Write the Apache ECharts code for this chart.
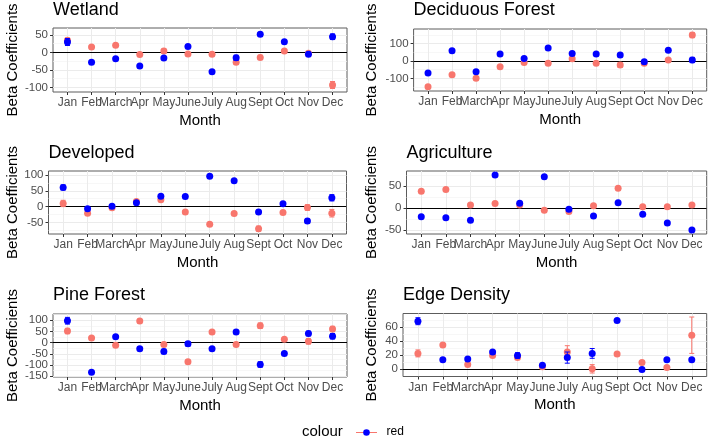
<!DOCTYPE html>
<html>
<head>
<meta charset="utf-8">
<script src="https://cdn.jsdelivr.net/npm/echarts@6/dist/echarts.min.js"></script>
<style>
html,body{margin:0;padding:0;background:#fff;}
#chart{width:709px;height:439px;}
</style>
</head>
<body>
<div id="chart"></div>
<script>
// ---------- DATA ----------
const months = ['Jan','Feb','March','Apr','May','June','July','Aug','Sept','Oct','Nov','Dec'];

const wetlandRed     = [35, 16, 21, -6, 4, -4, -5, -28, -14, 4, -2, -93];
const wetlandRedErr  = [6, 3, 3, 4, 6, 3, 3, 5, 6, 4, 3, 10];
const wetlandBlue    = [30, -28, -18, -39, -16, 17, -55, -15, 52, 31, -5, 45];
const wetlandBlueErr = [10, 3, 3, 3, 4, 3, 3, 7, 4, 3, 6, 8];

const decidRed     = [-148, -79, -100, -33, -8, -13, 13, -13, -23, -13, 6, 150];
const decidRedErr  = [8, 6, 8, 5, 5, 5, 5, 5, 14, 5, 6, 15];
const decidBlue    = [-69, 60, -62, 40, 15, 75, 44, 40, 35, -4, 62, 6];
const decidBlueErr = [5, 5, 8, 5, 6, 5, 5, 5, 10, 8, 5, 15];

const devRed     = [10, -21, -4, 16, 22, -17, -56, -22, -70, -19, -3, -21];
const devRedErr  = [10, 4, 4, 4, 4, 3, 4, 4, 8, 3, 9, 12];
const devBlue    = [61, -7, 1, 12, 33, 32, 96, 82, -17, 9, -46, 28];
const devBlueErr = [8, 4, 4, 5, 4, 3, 3, 3, 6, 3, 7, 10];

const agRed     = [38, 42, 7, 10, 7, -5, -8, 5, 45, 3, 3, 7];
const agRedErr  = [2, 2, 2, 2, 2, 2, 2, 2, 2, 2, 2, 2];
const agBlue    = [-20, -22, -28, 75, 11, 71, -3, -18, 12, -14, -34, -50];
const agBlueErr = [2, 2, 2, 2, 2, 2, 2, 2, 2, 2, 2, 2];

const pineRed     = [52, 21, -11, 97, -8, -85, 48, -8, 76, 15, 6, 61];
const pineRedErr  = [12, 5, 5, 8, 6, 8, 5, 8, 12, 5, 12, 12];
const pineBlue    = [98, -132, 26, -27, -39, -5, -27, 48, -97, -48, 41, 29];
const pineBlueErr = [15, 5, 5, 8, 10, 10, 5, 8, 12, 5, 10, 12];

const edgeRed     = [22, 34, 6, 19, 16, 3, 24, 0, 21, 9, 2, 48];
const edgeRedErr  = [5, 2, 2, 2, 2, 1, 9, 6, 2, 1, 1, 26];
const edgeBlue    = [68, 13, 14, 24, 19, 5, 16, 22, 69, -1, 13, 13];
const edgeBlueErr = [5, 2, 1, 2, 4, 1, 8, 7, 1, 1, 1, 1];

// tick labels / axis ranges
const wetlandMajor = [-100, -50, 0, 50];   const wetlandMinor = [-75, -25, 25];     const wetlandRange = [-113, 70];
const decidMajor   = [-100, 0, 100];       const decidMinor   = [-150, -50, 50, 150]; const decidRange = [-173, 185];
const devMajor     = [-50, 0, 50, 100];    const devMinor     = [-75, -25, 25, 75]; const devRange = [-87, 113];
const agMajor      = [-50, 0, 50];         const agMinor      = [-25, 25, 75];      const agRange = [-59, 84];
const pineMajor    = [-150, -100, -50, 0, 50, 100]; const pineMinor = [-125, -75, -25, 25, 75, 125]; const pineRange = [-153, 128];
const edgeMajor    = [0, 20, 40, 60];      const edgeMinor    = [10, 30, 50, 70];   const edgeRange = [-11, 79];

const panelTitles = ['Wetland','Deciduous Forest','Developed','Agriculture','Pine Forest','Edge Density'];
const xTitle = 'Month';
const yTitle = 'Beta Coefficients';
const legendTitle = 'colour';
const legendLabel = 'red';

// ---------- LAYOUT / STYLE ----------
const FONT = 'Liberation Sans, Arial, Helvetica, sans-serif';
const RED = '#F8766D', BLUE = '#0000FF';
const layout = [
  {left: 53,    top: 28,  width: 294,   height: 64,  yGap: 33,   tTop: 1},
  {left: 413.6, top: 29,  width: 293.1, height: 62,  yGap: 34.6, tTop: 1},
  {left: 48.5,  top: 171, width: 298,   height: 63,  yGap: 28.5, tTop: 144},
  {left: 406.5, top: 171, width: 300.2, height: 63,  yGap: 27.5, tTop: 144},
  {left: 53,    top: 314, width: 294,   height: 63,  yGap: 33,   tTop: 286},
  {left: 403,   top: 313.5, width: 303.7, height: 63, yGap: 24,   tTop: 286}
];

const panelData = [
  {red: wetlandRed, redErr: wetlandRedErr, blue: wetlandBlue, blueErr: wetlandBlueErr, major: wetlandMajor, minor: wetlandMinor, range: wetlandRange},
  {red: decidRed, redErr: decidRedErr, blue: decidBlue, blueErr: decidBlueErr, major: decidMajor, minor: decidMinor, range: decidRange},
  {red: devRed, redErr: devRedErr, blue: devBlue, blueErr: devBlueErr, major: devMajor, minor: devMinor, range: devRange},
  {red: agRed, redErr: agRedErr, blue: agBlue, blueErr: agBlueErr, major: agMajor, minor: agMinor, range: agRange},
  {red: pineRed, redErr: pineRedErr, blue: pineBlue, blueErr: pineBlueErr, major: pineMajor, minor: pineMinor, range: pineRange},
  {red: edgeRed, redErr: edgeRedErr, blue: edgeBlue, blueErr: edgeBlueErr, major: edgeMajor, minor: edgeMinor, range: edgeRange}
];

const monthIdx = months.map((m, i) => i);

function errRender(color) {
  return function (params, api) {
    const x = api.value(0), lo = api.value(1), hi = api.value(2);
    const p1 = api.coord([x, lo]), p2 = api.coord([x, hi]);
    const hw = 2.5;
    const st = {stroke: color, lineWidth: 1};
    return {type: 'group', children: [
      {type: 'line', shape: {x1: p1[0], y1: p1[1], x2: p2[0], y2: p2[1]}, style: st},
      {type: 'line', shape: {x1: p1[0]-hw, y1: p1[1], x2: p1[0]+hw, y2: p1[1]}, style: st},
      {type: 'line', shape: {x1: p2[0]-hw, y1: p2[1], x2: p2[0]+hw, y2: p2[1]}, style: st}
    ]};
  };
}

const yLabelStyle = {interval: 0, margin: 5, fontFamily: FONT, fontSize: 11.5, color: '#4D4D4D',
  hideOverlap: false, showMinLabel: true, showMaxLabel: true};

const grids = [], xAxes = [], yAxes = [], series = [], titles = [];
panelData.forEach((pd, k) => {
  const L = layout[k];
  grids.push({left: L.left, top: L.top, width: L.width, height: L.height, show: true,
    borderColor: '#5c5c5c', borderWidth: 1, containLabel: false});
  titles.push({text: panelTitles[k], left: L.left, top: L.tTop, padding: 0,
    textStyle: {fontFamily: FONT, fontSize: 18, fontWeight: 'normal', color: '#000'}});
  xAxes.push({type: 'value', gridIndex: k, min: -0.6, max: 11.6, position: 'bottom',
    name: xTitle, nameLocation: 'middle', nameGap: 21,
    nameTextStyle: {fontFamily: FONT, fontSize: 15, color: '#000'},
    axisLine: {show: false, onZero: false},
    axisTick: {show: true, length: 3, customValues: monthIdx, lineStyle: {color: '#333'}},
    axisLabel: {customValues: monthIdx, interval: 0, margin: 5, fontFamily: FONT, fontSize: 12, color: '#4D4D4D',
      hideOverlap: false, showMinLabel: true, showMaxLabel: true, formatter: v => months[Math.round(v)]},
    splitLine: {show: false}
  });
  // labels split over two coincident axes so adjacent labels are never auto-hidden
  const evenLabels = pd.major.filter((v, i) => i % 2 === 0);
  const oddLabels = pd.major.filter((v, i) => i % 2 === 1);
  yAxes.push({type: 'value', gridIndex: k, min: pd.range[0], max: pd.range[1], position: 'left', offset: 0,
    name: yTitle, nameLocation: 'middle', nameGap: L.yGap, nameRotate: 90,
    nameTextStyle: {fontFamily: FONT, fontSize: 15, color: '#000'},
    axisLine: {show: false, onZero: false},
    axisTick: {show: true, length: 3, customValues: pd.major, lineStyle: {color: '#333'}},
    axisLabel: Object.assign({customValues: evenLabels}, yLabelStyle),
    splitLine: {show: false}
  });
  yAxes.push({type: 'value', gridIndex: k, min: pd.range[0], max: pd.range[1], position: 'left', offset: 0,
    axisLine: {show: false, onZero: false},
    axisTick: {show: false},
    axisLabel: Object.assign({customValues: oddLabels}, yLabelStyle),
    splitLine: {show: false}
  });
  const yi = 2 * k;
  const gridLines = []
    .concat(pd.minor.map(v => ({yAxis: v, lineStyle: {color: '#F4F4F4', width: 0.7}})))
    .concat(pd.major.map(v => ({yAxis: v, lineStyle: {color: '#EBEBEB', width: 1}})))
    .concat(monthIdx.map(i => ({xAxis: i, lineStyle: {color: '#EBEBEB', width: 1}})));
  series.push({type: 'line', xAxisIndex: k, yAxisIndex: yi, data: [], z: 0, silent: true,
    markLine: {silent: true, z: 0, symbol: 'none', label: {show: false}, animation: false,
      lineStyle: {type: 'solid'}, data: gridLines}});
  series.push({type: 'line', xAxisIndex: k, yAxisIndex: yi, data: [], z: 1, silent: true,
    markLine: {silent: true, z: 1, symbol: 'none', label: {show: false}, animation: false,
      lineStyle: {color: '#000', width: 1, type: 'solid'}, data: [{yAxis: 0}]}});
  const redErr = monthIdx.map(i => [i, pd.red[i] - pd.redErr[i], pd.red[i] + pd.redErr[i]]);
  const blueErr = monthIdx.map(i => [i, pd.blue[i] - pd.blueErr[i], pd.blue[i] + pd.blueErr[i]]);
  series.push({type: 'custom', xAxisIndex: k, yAxisIndex: yi, z: 2, silent: true,
    renderItem: errRender(RED), encode: {x: 0, y: [1, 2]}, data: redErr});
  series.push({type: 'scatter', xAxisIndex: k, yAxisIndex: yi, z: 3, silent: true,
    symbol: 'circle', symbolSize: 7, itemStyle: {color: RED, opacity: 1},
    data: monthIdx.map(i => [i, pd.red[i]])});
  series.push({type: 'custom', xAxisIndex: k, yAxisIndex: yi, z: 4, silent: true,
    renderItem: errRender(BLUE), encode: {x: 0, y: [1, 2]}, data: blueErr});
  series.push({type: 'scatter', xAxisIndex: k, yAxisIndex: yi, z: 5, silent: true,
    symbol: 'circle', symbolSize: 7, itemStyle: {color: BLUE, opacity: 1},
    data: monthIdx.map(i => [i, pd.blue[i]])});
});

const chart = echarts.init(document.getElementById('chart'), null, {renderer: 'canvas'});
chart.setOption({
  animation: false,
  backgroundColor: '#fff',
  title: titles,
  grid: grids,
  xAxis: xAxes,
  yAxis: yAxes,
  series: series,
  graphic: [
    {type: 'text', left: 302, top: 424, style: {text: legendTitle, font: '15px ' + FONT, fill: '#000'}},
    {type: 'line', shape: {x1: 356, y1: 432.5, x2: 377, y2: 432.5}, style: {stroke: RED, lineWidth: 1}},
    {type: 'circle', shape: {cx: 366.5, cy: 432.5, r: 3.3}, style: {fill: BLUE}},
    {type: 'text', left: 386.5, top: 426, style: {text: legendLabel, font: '12px ' + FONT, fill: '#000'}}
  ]
});
</script>
</body>
</html>
